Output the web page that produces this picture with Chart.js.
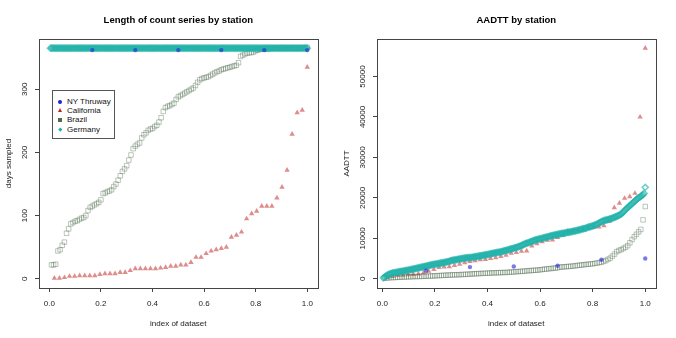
<!DOCTYPE html>
<html>
<head>
<meta charset="utf-8">
<script src="https://cdn.jsdelivr.net/npm/chart.js@4"></script>
<style>
  html, body { margin:0; padding:0; background:#fff; }
  #wrap { position:relative; width:676px; height:338px; overflow:hidden; font-family:"Liberation Sans", Arial, Helvetica, sans-serif; }
  .panel { position:absolute; top:0; width:338px; height:338px; }
  #legend { position:absolute; left:52px; top:90px; width:61px; height:47px; border:1px solid #555; background:#fff; }
  .item { position:absolute; left:0; height:10px; width:61px; font-size:8px; line-height:10px; color:#111; }
  .item span.t { position:absolute; left:14px; top:0; }
  .mk { position:absolute; }
</style>
</head>
<body>
<div id="wrap">
  <div class="panel" style="left:0"><canvas id="c1" width="338" height="338"></canvas>
    <div id="legend"></div>
  </div>
  <div class="panel" style="left:338px"><canvas id="c2" width="338" height="338"></canvas></div>
</div>
<script>
// ---------------- data ----------------
const seriesNames = ["NY Thruway", "California", "Brazil", "Germany"];
const xTickValues = [0, 0.2, 0.4, 0.6, 0.8, 1.0];
const daysTickValues = [0, 100, 200, 300];
const aadttTickValues = [0, 10000, 20000, 30000, 40000, 50000];

// Days sampled (left panel), each series sorted
const nyDays = [362, 362, 362, 362, 362, 362];
const caDays = [1,1,2,4,4,5,5,5,5,7,8,8,8,10,10,13,16,16,16,16,16,17,18,20,20,22,22,26,34,34,40,44,46,48,50,66,69,74,95,103,107,115,115,115,128,145,172,229,263,267,335];
const brDays = [22,22,23,44,46,53,58,72,79,87,89,91,92,94,96,97,100,108,113,115,117,119,121,125,135,136,138,139,141,146,
  150,156,163,170,174,179,188,196,206,210,213,215,223,228,231,235,237,238,241,243,248,255,265,271,273,274,276,278,284,288,
  290,292,294,296,298,300,302,306,311,315,317,318,319,320,322,324,326,328,329,331,332,333,334,335,336,337,338,342,352,354,
  356,357,358,358,359,361,362,363,364,364,364,364,365,365,365,365,365,365,365,365,365,365,365,365,365,365,365,365,366,366];
const deDays = [
  365,365,365,365,365,365,365,365,365,365,365,365,365,365,365,365,365,365,365,365,
  365,365,365,365,365,365,365,365,365,365,365,365,365,365,365,365,365,365,365,365,
  365,365,365,365,365,365,365,365,365,365,365,365,365,365,365,365,365,365,365,365,
  365,365,365,365,365,365,365,365,365,365,365,365,365,365,365,365,365,365,365,365,
  365,365,365,365,365,365,365,365,365,365,365,365,365,365,365,365,365,365,365,365,
  365,365,365,365,365,365,365,365,365,365,365,365,365,365,365,365,365,365,365,365,
  365,365,365,365,365,365,365,365,365,365,365,365,365,365,365,365,365,365,365,365,
  365,365,365,365,365,365,365,365,365,365,365,365,365,365,365,365,365,365,365,365,
  365,365,365,365,365,365,365,365,365,365,365,365,365,365,365,365,365,365,365,365,
  365,365,365,365,365,365,365,365,365,365,365,365,365,365,365,365,365,365,365,365,
  365,365,365,365,365,365,365,365,365,365,365,365,365,365,365,365,365,365,365,365,
  365,365,365,365,365,365,365,365,365,365,365,365,365,365,365,365,365,365,365,365];

// AADTT (right panel), each series sorted
const nyAadtt = [1980, 2890, 3050, 3210, 4700, 5020];
const caAadtt = [300,600,800,900,1000,1100,1200,1500,1900,2300,2800,2900,3000,3300,3600,4000,4300,4500,4700,4800,
  5000,5200,5500,5800,6300,6500,6800,6900,8100,8650,9140,9550,9630,10200,10800,11800,11900,12000,12100,12600,
  12760,12800,13100,14250,17600,18700,19900,20300,21150,40000,57000];
const brAadtt = [150,200,240,270,300,330,360,390,420,440,460,480,500,520,540,560,580,600,620,640,
  660,680,700,730,760,790,820,860,890,910,930,950,970,990,1010,1040,1070,1100,1130,1160,
  1190,1220,1250,1280,1310,1340,1370,1400,1420,1440,1460,1480,1500,1520,1540,1560,1590,1630,1660,1700,
  1740,1780,1820,1860,1900,1960,2000,2040,2080,2120,2160,2220,2290,2360,2420,2480,2540,2600,2660,2730,
  2880,2920,2960,3000,3050,3100,3150,3200,3300,3350,3420,3480,3540,3600,3650,3700,3800,3900,4000,4100,
  4300,4500,4800,5100,5600,6100,6700,7000,7200,7500,7800,8200,8900,9700,10400,11000,11600,12200,14570,17860];
const deAadtt = [
  250,400,600,800,950,1100,1200,1300,1380,1450,1500,1550,1600,1650,1700,1750,1800,1850,1900,1950,
  2000,2050,2100,2150,2200,2250,2310,2380,2440,2500,2560,2620,2690,2750,2810,2880,2940,3000,3060,3120,
  3180,3250,3310,3380,3440,3500,3550,3600,3650,3700,3750,3800,3850,3900,3950,4000,4050,4100,4170,4250,
  4320,4400,4480,4550,4600,4650,4700,4750,4800,4850,4900,4950,5000,5050,5100,5150,5180,5200,5220,5250,
  5280,5300,5350,5400,5450,5500,5550,5600,5650,5700,5750,5800,5850,5900,5950,6000,6050,6100,6170,6250,
  6300,6350,6400,6450,6500,6550,6600,6650,6720,6800,6870,6950,7020,7100,7170,7250,7320,7400,7470,7550,
  7620,7700,7800,7900,8000,8100,8220,8350,8470,8600,8700,8800,8900,9000,9100,9200,9300,9400,9500,9600,
  9680,9750,9820,9900,9950,10000,10080,10150,10220,10300,10370,10450,10520,10600,10670,10750,10800,10850,10900,10950,
  11020,11100,11150,11200,11250,11300,11350,11400,11450,11500,11550,11600,11650,11700,11780,11850,11900,11950,12020,12100,
  12170,12250,12320,12400,12470,12550,12650,12750,12820,12900,12970,13050,13150,13250,13370,13500,13650,13800,13950,14100,
  14220,14350,14420,14500,14570,14650,14720,14800,14900,15000,15100,15200,15320,15450,15570,15700,15850,16000,16250,16500,
  16800,17100,17350,17600,17850,18100,18350,18600,18850,19100,19350,19600,19800,20000,20200,20400,20600,20800,21100,22600];

// ---------------- helpers ----------------
const FONT = '"Liberation Sans", Arial, Helvetica, sans-serif';
Chart.defaults.font.family = FONT;
Chart.defaults.color = '#222';

function toPoints(vals) {
  const n = vals.length;
  return vals.map((v, i) => ({ x: (i + 1) / n, y: v }));
}

const styles = {
  "NY Thruway": { pointStyle: 'circle', pointRadius: 2.2, backgroundColor: 'rgba(35,35,215,0.6)', borderColor: 'rgba(0,0,0,0)', borderWidth: 0, order: 0 },
  "California": { pointStyle: 'triangle', pointRadius: 3.1, backgroundColor: 'rgba(195,45,45,0.55)', borderColor: 'rgba(0,0,0,0)', borderWidth: 0, order: 3 },
  "Brazil":     { pointStyle: 'rect', pointRadius: 3.2, backgroundColor: 'rgba(0,0,0,0)', borderColor: 'rgba(70,100,70,0.36)', borderWidth: 1, order: 2 },
  "Germany":    { pointStyle: 'rectRot', pointRadius: 3, backgroundColor: 'rgba(0,0,0,0)', borderColor: 'rgba(32,178,170,0.62)', borderWidth: 1.6, order: 1 }
};

function makeDatasets(arrays) {
  return seriesNames.map((name, k) => Object.assign({
    label: name,
    data: toPoints(arrays[k]),
    showLine: false,
    pointHoverRadius: 0
  }, styles[name], { pointBackgroundColor: styles[name].backgroundColor, pointBorderColor: styles[name].borderColor, pointBorderWidth: styles[name].borderWidth }));
}

const boxPlugin = {
  id: 'rbox',
  afterDraw(chart) {
    const { ctx, chartArea: a } = chart;
    ctx.save();
    ctx.strokeStyle = '#444';
    ctx.lineWidth = 1;
    const l = Math.round(a.left), t = Math.round(a.top), r = Math.round(a.right), b = Math.round(a.bottom);
    ctx.strokeRect(l + 0.5, t + 0.5, r - l, b - t);
    ctx.restore();
  }
};

function makeChart(id, title, yTitle, datasets, xr, yr, yTicks, yPad, yFmt) {
  return new Chart(document.getElementById(id), {
    type: 'scatter',
    data: { datasets },
    plugins: [boxPlugin],
    options: {
      responsive: false,
      animation: false,
      devicePixelRatio: 1,
      events: [],
      layout: { padding: { left: 0, right: 20.4, top: 0, bottom: 0 } },
      plugins: {
        legend: { display: false },
        tooltip: { enabled: false },
        title: {
          display: true, text: title, fullSize: false, color: '#000',
          font: { size: 9.5, weight: 'bold', family: FONT },
          padding: { top: 14.3, bottom: 13.3 }
        }
      },
      scales: {
        x: {
          type: 'linear', position: 'bottom', min: xr[0], max: xr[1],
          afterBuildTicks: s => { s.ticks = xTickValues.map(v => ({ value: v })); },
          afterFit: s => { s.height = 50; },
          ticks: { callback: v => Number(v).toFixed(1), font: { size: 8 }, color: '#222', padding: 7, maxRotation: 0, autoSkip: false },
          grid: { drawOnChartArea: false, drawTicks: true, tickLength: 4, color: '#444', tickColor: '#444', tickWidth: 1 },
          border: { display: false },
          title: { display: true, text: 'index of dataset', font: { size: 8 }, color: '#222', padding: { top: 0, bottom: 9.9 } }
        },
        y: {
          type: 'linear', position: 'left', min: yr[0], max: yr[1],
          afterBuildTicks: s => { s.ticks = yTicks.map(v => ({ value: v })); },
          afterFit: s => { s.width = 39; },
          ticks: { callback: yFmt, font: { size: 8 }, color: '#222', padding: yPad, minRotation: 90, maxRotation: 90, crossAlign: 'center', autoSkip: false },
          grid: { drawOnChartArea: false, drawTicks: true, tickLength: 4, color: '#444', tickColor: '#444', tickWidth: 1 },
          border: { display: false },
          title: { display: true, text: yTitle, font: { size: 8 }, color: '#222', padding: { top: 3.5, bottom: 0 } }
        }
      }
    }
  });
}

makeChart('c1', 'Length of count series by station', 'days sampled',
  makeDatasets([nyDays, caDays, brDays, deDays]),
  [-0.04, 1.04], [-14.6, 379.6], daysTickValues, 3.3, v => String(v));

makeChart('c2', 'AADTT by station', 'AADTT',
  makeDatasets([nyAadtt, caAadtt, brAadtt, deAadtt]),
  [-0.0202, 1.0394], [-2280, 59280], aadttTickValues, -1.1, v => String(v));

// ---------------- legend (left panel) ----------------
const legendMarks = {
  "NY Thruway": '<div class="mk" style="left:5px;top:3px;width:4px;height:4px;border-radius:50%;background:#2222cc"></div>',
  "California": '<div class="mk" style="left:4.5px;top:2.5px;width:0;height:0;border-left:2.5px solid transparent;border-right:2.5px solid transparent;border-bottom:4.5px solid #c42222"></div>',
  "Brazil":     '<div class="mk" style="left:5px;top:3px;width:4px;height:4px;background:#4f6a4f"></div>',
  "Germany":    '<div class="mk" style="left:5.5px;top:3.5px;width:2.6px;height:2.6px;background:#20b2aa;transform:rotate(45deg)"></div>'
};
const rowTops = [5.5, 14.8, 24.2, 33.8];
const lg = document.getElementById('legend');
seriesNames.forEach((name, i) => {
  const d = document.createElement('div');
  d.className = 'item';
  d.style.top = rowTops[i] + 'px';
  d.innerHTML = legendMarks[name] + '<span class="t">' + name + '</span>';
  lg.appendChild(d);
});
</script>
</body>
</html>
